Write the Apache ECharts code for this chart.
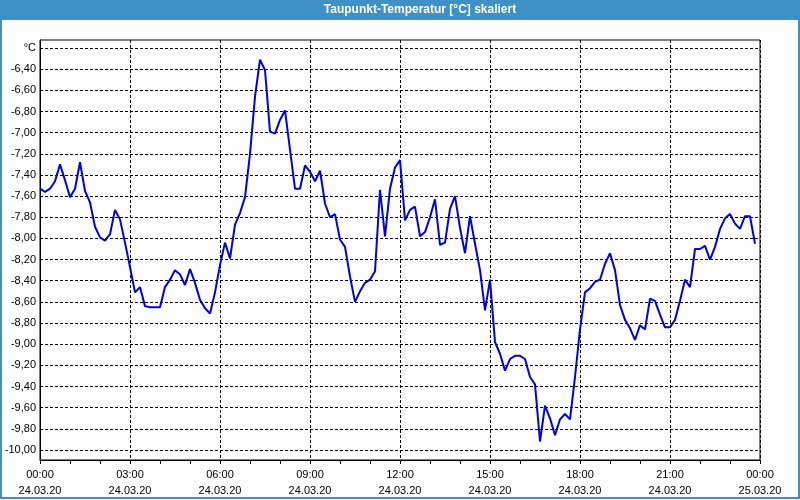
<!DOCTYPE html>
<html>
<head>
<meta charset="utf-8">
<script src="https://cdn.jsdelivr.net/npm/echarts@6/dist/echarts.min.js"></script>
<style>
html,body{margin:0;padding:0;background:#fcfdfc;}
#chart{width:800px;height:500px;}
</style>
</head>
<body>
<div id="chart"></div>
<script>
const chartTitle = 'Taupunkt-Temperatur [°C] skaliert';
const yUnit = '°C';
const STEP_MIN = 10; // sampling step in minutes
const xTickLabels = [
  '00:00\n24.03.20','03:00\n24.03.20','06:00\n24.03.20','09:00\n24.03.20',
  '12:00\n24.03.20','15:00\n24.03.20','18:00\n24.03.20','21:00\n24.03.20',
  '00:00\n25.03.20'
];
const values = [
  -7.53,-7.56,-7.53,-7.46,-7.30,-7.45,-7.61,-7.53,-7.28,-7.55,
  -7.66,-7.89,-7.99,-8.02,-7.96,-7.73,-7.82,-8.04,-8.27,-8.51,
  -8.46,-8.64,-8.65,-8.65,-8.65,-8.46,-8.39,-8.30,-8.34,-8.44,
  -8.29,-8.42,-8.58,-8.66,-8.71,-8.51,-8.25,-8.04,-8.19,-7.87,
  -7.76,-7.61,-7.20,-6.66,-6.31,-6.41,-6.99,-7.01,-6.88,-6.79,
  -7.16,-7.53,-7.53,-7.31,-7.37,-7.46,-7.36,-7.67,-7.80,-7.77,
  -8.01,-8.08,-8.36,-8.60,-8.50,-8.42,-8.39,-8.31,-7.54,-7.98,
  -7.53,-7.33,-7.26,-7.83,-7.73,-7.70,-7.98,-7.94,-7.80,-7.63,
  -8.06,-8.04,-7.72,-7.60,-7.90,-8.14,-7.79,-8.05,-8.30,-8.68,
  -8.39,-8.98,-9.09,-9.25,-9.14,-9.11,-9.11,-9.14,-9.31,-9.38,
  -9.92,-9.58,-9.70,-9.86,-9.71,-9.66,-9.71,-9.31,-8.86,-8.51,
  -8.47,-8.41,-8.39,-8.24,-8.14,-8.30,-8.63,-8.77,-8.85,-8.96,
  -8.82,-8.86,-8.57,-8.59,-8.72,-8.84,-8.84,-8.77,-8.59,-8.39,
  -8.46,-8.10,-8.10,-8.07,-8.20,-8.08,-7.91,-7.81,-7.77,-7.86,
  -7.91,-7.79,-7.79,-8.05
];
const yMin = -10.0, yMax = -6.2, yStep = 0.2;
const xMaxMin = 1440, xStepMin = 180;

const seriesData = values.map((v, i) => [i * STEP_MIN, v]);
const font = 'Liberation Sans, Arial, sans-serif';

const chart = echarts.init(document.getElementById('chart'), null, {renderer: 'canvas'});
chart.setOption({
  animation: false,
  backgroundColor: '#fcfdfc',
  grid: [
    {left: 40, right: 40, top: 40, bottom: 40, show: true, borderColor: '#000', borderWidth: 1,
     backgroundColor: 'transparent', outerBoundsMode: 'none', containLabel: false},
    {left: 40, right: 40, top: 48, bottom: 50, outerBoundsMode: 'none', containLabel: false}
  ],
  xAxis: [
    {
      gridIndex: 0, type: 'value', min: 0, max: xMaxMin, interval: xStepMin,
      axisLine: {show: true, lineStyle: {color: '#000', width: 1}},
      axisTick: {show: true, length: 4, lineStyle: {color: '#000'}},
      minorTick: {show: true, splitNumber: 3, length: 4, lineStyle: {color: '#000'}},
      axisLabel: {
        show: true, margin: 7, color: '#000', fontFamily: font, fontSize: 11, lineHeight: 16,
        formatter: v => xTickLabels[Math.round(v / xStepMin)] || ''
      },
      splitLine: {show: true, lineStyle: {color: '#000', width: 1, type: [3, 2]}},
      minorSplitLine: {show: false}
    },
    {
      gridIndex: 1, type: 'value', min: 0, max: xMaxMin, show: false,
      splitLine: {show: false}
    }
  ],
  yAxis: [
    {
      gridIndex: 0, type: 'value', min: 0, max: 1,
      axisLine: {show: true, lineStyle: {color: '#000', width: 1}},
      axisTick: {show: false}, axisLabel: {show: false}, splitLine: {show: false}
    },
    {
      gridIndex: 1, type: 'value', min: yMin, max: yMax, interval: yStep,
      axisLine: {show: false}, axisTick: {show: false},
      axisLabel: {
        show: true, margin: 4, color: '#000', fontFamily: font, fontSize: 11, padding: [3, 0, 0, 0],
        formatter: v => Math.abs(v - yMax) < 1e-6 ? yUnit : v.toFixed(2).replace('.', ',')
      },
      splitLine: {show: true, lineStyle: {color: '#000', width: 1, type: [3, 2]}}
    }
  ],
  series: [{
    type: 'line', xAxisIndex: 1, yAxisIndex: 1, data: seriesData,
    showSymbol: false, symbol: 'none', smooth: false,
    lineStyle: {color: '#0000e6', width: 2}, z: 5
  }],
  graphic: [
    {type: 'rect', shape: {x: 0, y: 0, width: 800, height: 20}, style: {fill: '#3d91c6'}, z: 10},
    {type: 'text', x: 420, y: 10, style: {text: chartTitle, fill: '#fff', font: 'bold 12px ' + font,
      align: 'center', verticalAlign: 'middle'}, z: 11},
    {type: 'rect', shape: {x: 1, y: 1, width: 798, height: 497},
      style: {fill: 'none', stroke: '#3d91c6', lineWidth: 2}, z: 10}
  ]
});
</script>
</body>
</html>
